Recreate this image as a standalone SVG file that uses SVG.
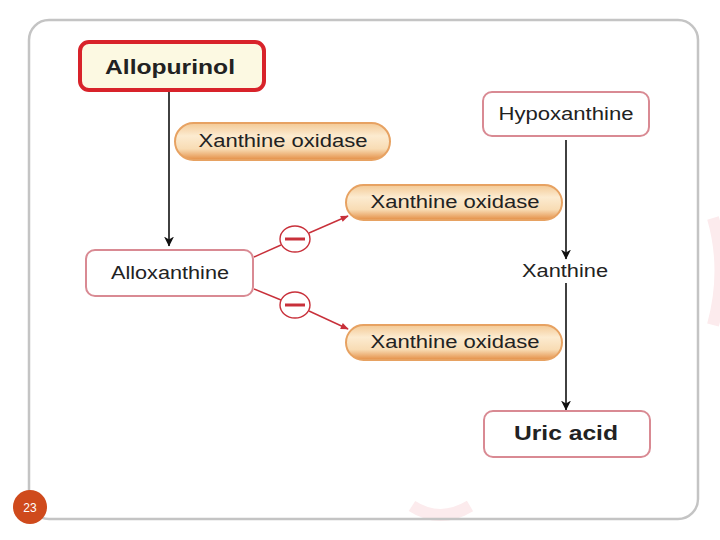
<svg xmlns="http://www.w3.org/2000/svg" width="720" height="540" viewBox="0 0 720 540">
<defs>
<style>
.t{font-family:"Liberation Sans",Arial,sans-serif;fill:#222;text-anchor:middle;dominant-baseline:central}
.b{font-weight:bold;font-size:20px}
.n{font-size:17.5px}
.box{fill:#fff;stroke:#d98a93;stroke-width:2}
.pill{fill:url(#pg);stroke:#e7a262;stroke-width:2}
.blk{stroke:#111;stroke-width:1.6;fill:none}
.red{stroke:#c8303a;stroke-width:1.4;fill:none}
</style>
<linearGradient id="pg" x1="0" y1="0" x2="0" y2="1">
<stop offset="0" stop-color="#f3c995"/>
<stop offset="0.35" stop-color="#fcebd0"/>
<stop offset="0.7" stop-color="#f8dcb4"/>
<stop offset="1" stop-color="#e48e45"/>
</linearGradient>
<marker id="ab" viewBox="0 0 10 12" refX="9.5" refY="6" markerWidth="10" markerHeight="12" orient="auto" markerUnits="userSpaceOnUse">
<path d="M0,1 L10,6 L0,11 L3,6 Z" fill="#111"/>
</marker>
<marker id="ar" viewBox="0 0 10 10" refX="9" refY="5" markerWidth="9" markerHeight="8" orient="auto" markerUnits="userSpaceOnUse">
<path d="M0,1 L10,5 L0,9 Z" fill="#c8303a"/>
</marker>
</defs>
<rect width="720" height="540" fill="#fff"/>
<g id="background" fill="none" stroke="#fcebed" stroke-width="12">
<path d="M713,218 Q728,270 713,325"/>
<path d="M412,506 Q440,524 470,506"/>
</g>
<rect id="frame" x="29" y="20" width="669" height="499" rx="20" fill="none" stroke="#c4c4c4" stroke-width="2.5"/>
<g id="connectors">
<line class="blk" x1="169" y1="90" x2="169" y2="246" marker-end="url(#ab)"/>
<line class="blk" x1="566" y1="140" x2="566" y2="259" marker-end="url(#ab)"/>
<line class="blk" x1="566" y1="283" x2="566" y2="410" marker-end="url(#ab)"/>
<line class="red" x1="254" y1="257" x2="281" y2="245"/>
<line class="red" x1="309" y1="233" x2="348" y2="216" marker-end="url(#ar)"/>
<line class="red" x1="254" y1="289" x2="281" y2="300"/>
<line class="red" x1="309" y1="311" x2="348" y2="329" marker-end="url(#ar)"/>
<g id="inhib1"><ellipse cx="295" cy="239" rx="15" ry="13" fill="#fff" stroke="#c8303a" stroke-width="1.4"/><line x1="285" y1="239" x2="305" y2="239" stroke="#c8303a" stroke-width="3"/></g>
<g id="inhib2"><ellipse cx="295" cy="305" rx="15" ry="13" fill="#fff" stroke="#c8303a" stroke-width="1.4"/><line x1="285" y1="305" x2="305" y2="305" stroke="#c8303a" stroke-width="3"/></g>
</g>
<g id="allopurinol">
<rect x="80" y="42" width="184" height="48" rx="9" fill="#fcf9e2" stroke="#d8232a" stroke-width="4"/>
<text class="t b" x="170" y="67" textLength="130" lengthAdjust="spacingAndGlyphs">Allopurinol</text>
</g>
<g id="xo1">
<rect class="pill" x="175" y="123" width="215" height="37" rx="18.5"/>
<text class="t n" x="283" y="141" textLength="169" lengthAdjust="spacingAndGlyphs">Xanthine oxidase</text>
</g>
<g id="hypoxanthine">
<rect class="box" x="483" y="92" width="166" height="44" rx="9"/>
<text class="t n" x="566" y="114" textLength="135" lengthAdjust="spacingAndGlyphs">Hypoxanthine</text>
</g>
<g id="alloxanthine">
<rect class="box" x="86" y="250" width="167" height="46" rx="9"/>
<text class="t n" x="170" y="273" textLength="118" lengthAdjust="spacingAndGlyphs">Alloxanthine</text>
</g>
<g id="xo2">
<rect class="pill" x="346" y="185" width="216" height="35" rx="17.5"/>
<text class="t n" x="455" y="202" textLength="169" lengthAdjust="spacingAndGlyphs">Xanthine oxidase</text>
</g>
<g id="xanthine">
<text class="t n" x="565" y="271" textLength="86" lengthAdjust="spacingAndGlyphs">Xanthine</text>
</g>
<g id="xo3">
<rect class="pill" x="346" y="325" width="216" height="35" rx="17.5"/>
<text class="t n" x="455" y="342" textLength="169" lengthAdjust="spacingAndGlyphs">Xanthine oxidase</text>
</g>
<g id="uricacid">
<rect class="box" x="484" y="411" width="166" height="46" rx="9"/>
<text class="t b" x="566" y="433" textLength="104" lengthAdjust="spacingAndGlyphs">Uric acid</text>
</g>
<g id="pagenum">
<circle cx="30" cy="507" r="17" fill="#cf4a1c"/>
<text x="30" y="508" font-family="Liberation Sans,Arial,sans-serif" font-size="12" fill="#fff" text-anchor="middle" dominant-baseline="central">23</text>
</g>
</svg>
